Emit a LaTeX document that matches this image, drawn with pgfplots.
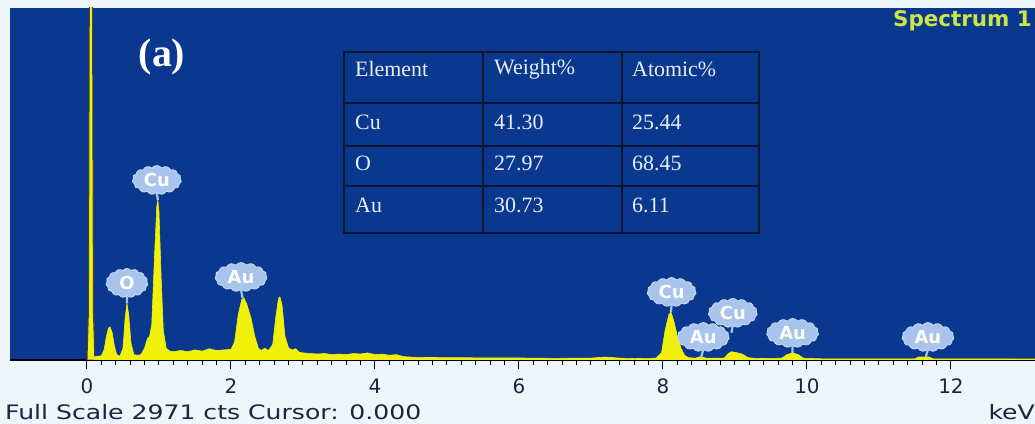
\documentclass[border=0pt]{standalone}
\usepackage{pgfplots}
\pgfplotsset{compat=1.18}
\usepackage{fontspec}
\setmainfont{DejaVu Sans}
\newfontfamily\tabfont{Liberation Serif}
\usetikzlibrary{shapes.symbols}
\definecolor{bgblue}{RGB}{10,56,142}
\definecolor{lowbg}{RGB}{238,245,251}
\definecolor{specyellow}{RGB}{240,240,10}
\definecolor{bubblecol}{RGB}{168,196,236}
\definecolor{labcol}{RGB}{26,37,64}
\definecolor{tabtext}{RGB}{232,238,246}
\definecolor{tabline}{RGB}{12,20,50}
\definecolor{spectext}{RGB}{205,230,70}
\tikzset{
  bubble/.style={shape=cloud, cloud puffs=15, cloud puff arc=110, aspect=1.7,
    fill=bubblecol, draw=bubblecol!60!white, line width=0.8bp, text=white,
    font=\bfseries\fontsize{18}{18}\selectfont, inner sep=0pt,
    minimum width=49bp, minimum height=29bp},
  stem/.style={bubblecol, line width=2.2bp},
}
\begin{document}
\begin{tikzpicture}
\path[use as bounding box] (-10bp,-64bp) rectangle (1025bp,360bp);
\fill[lowbg] (-10bp,-64bp) rectangle (1025bp,360bp);
\begin{axis}[
  at={(0,0)}, anchor=south west,
  width=1025bp, height=352bp, scale only axis,
  xmin=-1.069, xmax=13.167, ymin=0, ymax=2971,
  axis background/.style={fill=bgblue},
  axis x line=bottom, axis y line=none,
  axis line style={-, draw=black, line width=1.2bp},
  xtick={0,2,...,12}, minor x tick num=9,
  tick align=outside,
  major tick length=9bp, minor tick length=5bp,
  every tick/.style={black, line width=1bp},
  xticklabel style={font=\fontsize{20}{20}\selectfont, text=labcol, yshift=-6bp},
  /pgf/number format/assume math mode=true,
  ytick=\empty,
  clip=true,
]
% zero-energy noise peak
\addplot[draw=black!75, fill=specyellow, line width=1bp] coordinates {
(0.0,0) (0.02,400) (0.035,3500) (0.075,3500) (0.09,400) (0.11,0)
} \closedcycle;
% spectrum
\addplot[draw=specyellow, fill=specyellow, line width=0.6bp] coordinates {
(0.1,0) (0.11,30)
(0.2,35) (0.24,90) (0.27,200) (0.3,270) (0.32,280) (0.35,230) (0.38,120) (0.41,50) (0.44,35)
(0.46,35) (0.5,100) (0.53,350) (0.555,481) (0.58,380) (0.61,150) (0.65,45) (0.7,40)
(0.75,45) (0.8,100) (0.84,180) (0.87,200) (0.9,300) (0.94,900) (0.97,1300) (0.985,1350)
(1.0,1250) (1.03,700) (1.06,250) (1.1,100) (1.15,75)
(1.2,70) (1.3,80) (1.4,70) (1.5,85) (1.6,75) (1.7,95) (1.8,80) (1.9,85) (2.0,90)
(2.05,150) (2.1,380) (2.15,510) (2.18,523) (2.22,470) (2.28,350) (2.33,200) (2.38,100)
(2.42,80) (2.47,100) (2.52,80) (2.58,130) (2.62,350) (2.66,520) (2.68,532) (2.71,460)
(2.75,200) (2.8,100) (2.85,85) (2.9,95) (2.95,65) (3.0,60) (3.1,55) (3.2,50) (3.3,55)
(3.4,45) (3.5,50) (3.6,45) (3.7,55) (3.8,50) (3.9,60) (4.0,45) (4.1,50) (4.2,40)
(4.3,45) (4.4,28) (4.6,22) (5.0,20) (5.5,18) (6.0,17) (6.5,14) (7.0,16) (7.2,25)
(7.4,16) (7.6,12) (7.9,15) (7.98,60) (8.03,250) (8.08,380) (8.11,405) (8.15,330)
(8.2,200) (8.25,100) (8.3,40) (8.35,20) (8.45,15) (8.5,25) (8.55,25) (8.6,15)
(8.85,15) (8.9,50) (8.95,70) (9.0,65) (9.1,50) (9.18,20) (9.3,12) (9.65,15)
(9.72,45) (9.8,60) (9.88,45) (9.95,15) (10.2,10) (11.5,10) (11.55,25) (11.7,25)
(11.75,10) (13.2,8)
} \closedcycle;
\node[bubble] (b1) at (axis cs:0.97,1519) {Cu};
\draw[stem] (b1.south) -- (axis cs:0.985,1350);
\node[bubble, minimum width=42bp, minimum height=29bp] (b2) at (axis cs:0.555,650) {O};
\draw[stem] (b2.south) -- (axis cs:0.555,481);
\node[bubble, minimum width=52bp] (b3) at (axis cs:2.14,700) {Au};
\draw[stem] (b3.south) -- (axis cs:2.16,523);
\node[bubble] (b4) at (axis cs:8.12,574) {Cu};
\draw[stem] (b4.south) -- (axis cs:8.11,405);
\node[bubble, minimum width=52bp] (b5) at (axis cs:8.56,194) {Au};
\draw[stem] (b5.south) -- (axis cs:8.53,25);
\node[bubble] (b6) at (axis cs:8.97,397) {Cu};
\draw[stem] (b6.south) -- (axis cs:8.95,230);
\node[bubble, minimum width=52bp] (b7) at (axis cs:9.8,228) {Au};
\draw[stem] (b7.south) -- (axis cs:9.8,60);
\node[bubble, minimum width=52bp] (b8) at (axis cs:11.68,194) {Au};
\draw[stem] (b8.south) -- (axis cs:11.65,25);
\end{axis}
\begin{scope}[x=1bp,y=1bp]
% table
\draw[tabline, line width=2bp] (334,127) rectangle (749,308);
\draw[tabline, line width=2bp] (334,257) -- (749,257);
\draw[tabline, line width=2bp] (334,214) -- (749,214);
\draw[tabline, line width=2bp] (334,174) -- (749,174);
\draw[tabline, line width=2bp] (473,127) -- (473,308);
\draw[tabline, line width=2bp] (612,127) -- (612,308);
\begin{scope}[every node/.style={anchor=west, text=tabtext, font=\tabfont\fontsize{22}{22}\selectfont, inner sep=0pt}]
\node at (345,291) {Element};
\node at (484,291) {Weight\%};
\node at (622,291) {Atomic\%};
\node at (345,238) {Cu};
\node at (484,238) {41.30};
\node at (622,238) {25.44};
\node at (345,197) {O};
\node at (484,197) {27.97};
\node at (622,197) {68.45};
\node at (345,155) {Au};
\node at (484,155) {30.73};
\node at (622,155) {6.11};
\end{scope}
\node[text=white, font=\tabfont\bfseries\fontsize{40}{40}\selectfont, inner sep=0pt] at (152,303) {(a)};
\node[anchor=east, text=spectext, font=\bfseries\fontsize{21.5}{21.5}\selectfont, inner sep=0pt] at (1022,339) {Spectrum 1};
\node[anchor=west, text=labcol, font=\fontsize{20}{20}\selectfont, inner sep=0pt] at (-5,-52) {\scalebox{1.26}[1]{Full Scale 2971 cts Cursor: 0.000}};
\node[anchor=east, text=labcol, font=\fontsize{20}{20}\selectfont, inner sep=0pt] at (1025,-52) {\scalebox{1.26}[1]{keV}};
\end{scope}
\end{tikzpicture}
\end{document}
